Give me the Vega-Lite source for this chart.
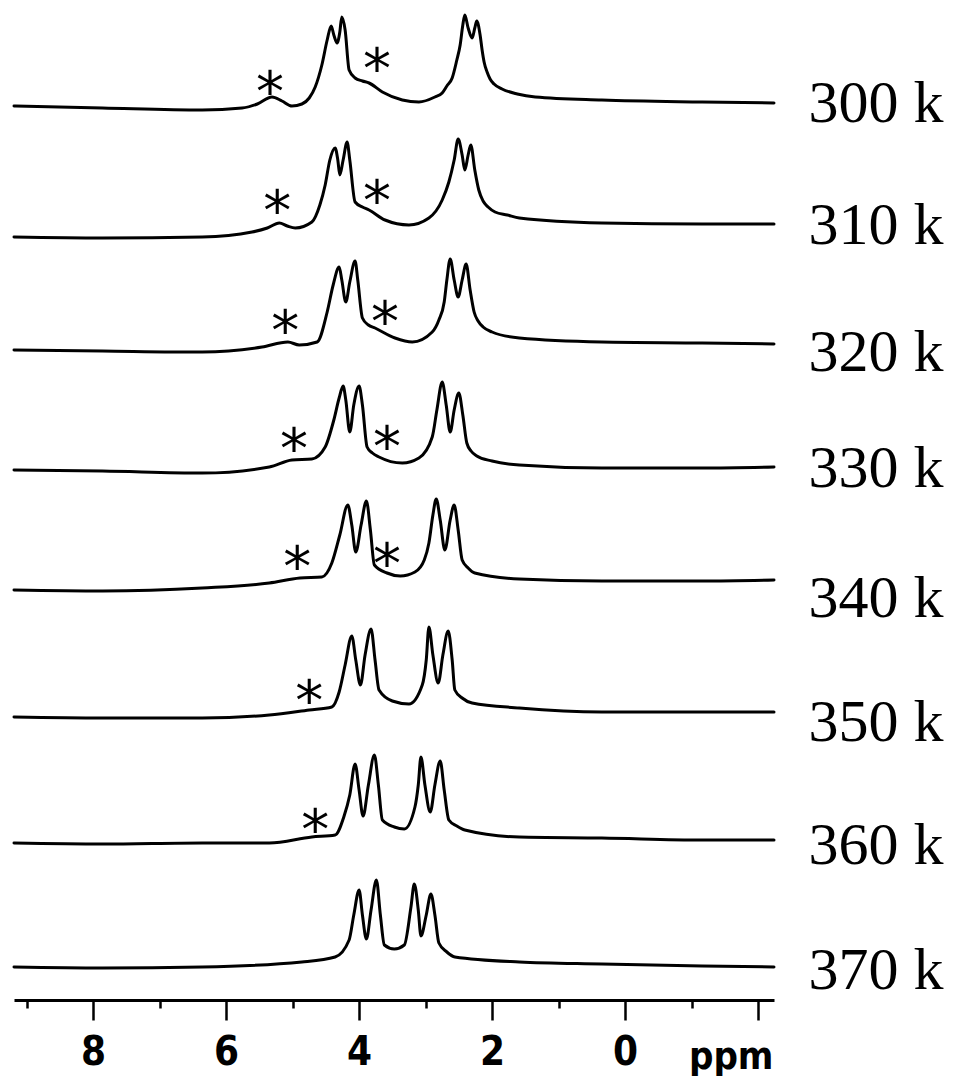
{
"$schema": "https://vega.github.io/schema/vega-lite/v6.json",
"width": 760, "height": 1000,
"padding": {"left": 12, "top": 0, "right": 0, "bottom": 0},
"background": "white",
"config": {"view": {"stroke": null}},
"datasets": {
"spectra": [
{"T":"300 k","ppm":9.19,"I":894},{"T":"300 k","ppm":7.86,"I":892},{"T":"300 k","ppm":6.36,"I":890},{"T":"300 k","ppm":5.76,"I":892},{"T":"300 k","ppm":5.53,"I":896},{"T":"300 k","ppm":5.31,"I":903},{"T":"300 k","ppm":5.16,"I":899},{"T":"300 k","ppm":5.01,"I":894},{"T":"300 k","ppm":4.86,"I":896},{"T":"300 k","ppm":4.75,"I":902},{"T":"300 k","ppm":4.66,"I":913},{"T":"300 k","ppm":4.56,"I":935},{"T":"300 k","ppm":4.48,"I":960},{"T":"300 k","ppm":4.42,"I":974},{"T":"300 k","ppm":4.38,"I":965},{"T":"300 k","ppm":4.33,"I":957},{"T":"300 k","ppm":4.29,"I":968},{"T":"300 k","ppm":4.26,"I":983},{"T":"300 k","ppm":4.21,"I":970},{"T":"300 k","ppm":4.15,"I":930},{"T":"300 k","ppm":4.06,"I":922},{"T":"300 k","ppm":3.95,"I":919},{"T":"300 k","ppm":3.85,"I":917},{"T":"300 k","ppm":3.65,"I":908},{"T":"300 k","ppm":3.35,"I":900},{"T":"300 k","ppm":3.10,"I":898},{"T":"300 k","ppm":2.86,"I":903},{"T":"300 k","ppm":2.75,"I":907},{"T":"300 k","ppm":2.68,"I":914},{"T":"300 k","ppm":2.60,"I":922},{"T":"300 k","ppm":2.53,"I":940},{"T":"300 k","ppm":2.48,"I":955},{"T":"300 k","ppm":2.44,"I":975},{"T":"300 k","ppm":2.41,"I":985},{"T":"300 k","ppm":2.36,"I":972},{"T":"300 k","ppm":2.30,"I":962},{"T":"300 k","ppm":2.26,"I":972},{"T":"300 k","ppm":2.23,"I":979},{"T":"300 k","ppm":2.18,"I":965},{"T":"300 k","ppm":2.15,"I":950},{"T":"300 k","ppm":2.12,"I":938},{"T":"300 k","ppm":2.075,"I":928},{"T":"300 k","ppm":2.03,"I":921},{"T":"300 k","ppm":1.97,"I":916},{"T":"300 k","ppm":1.85,"I":911},{"T":"300 k","ppm":1.62,"I":906},{"T":"300 k","ppm":1.35,"I":903},{"T":"300 k","ppm":0.35,"I":900},{"T":"300 k","ppm":-1.16,"I":898},{"T":"300 k","ppm":-2.24,"I":897},
{"T":"310 k","ppm":9.19,"I":763},{"T":"310 k","ppm":7.86,"I":762},{"T":"310 k","ppm":6.36,"I":763},{"T":"310 k","ppm":5.61,"I":768},{"T":"310 k","ppm":5.38,"I":772},{"T":"310 k","ppm":5.20,"I":777},{"T":"310 k","ppm":5.08,"I":774},{"T":"310 k","ppm":4.96,"I":772},{"T":"310 k","ppm":4.71,"I":778},{"T":"310 k","ppm":4.59,"I":795},{"T":"310 k","ppm":4.51,"I":815},{"T":"310 k","ppm":4.44,"I":840},{"T":"310 k","ppm":4.36,"I":852},{"T":"310 k","ppm":4.32,"I":840},{"T":"310 k","ppm":4.29,"I":825},{"T":"310 k","ppm":4.24,"I":840},{"T":"310 k","ppm":4.18,"I":858},{"T":"310 k","ppm":4.14,"I":840},{"T":"310 k","ppm":4.06,"I":798},{"T":"310 k","ppm":3.95,"I":793},{"T":"310 k","ppm":3.85,"I":790},{"T":"310 k","ppm":3.61,"I":780},{"T":"310 k","ppm":3.25,"I":775},{"T":"310 k","ppm":2.95,"I":782},{"T":"310 k","ppm":2.75,"I":800},{"T":"310 k","ppm":2.65,"I":818},{"T":"310 k","ppm":2.57,"I":840},{"T":"310 k","ppm":2.51,"I":861},{"T":"310 k","ppm":2.45,"I":845},{"T":"310 k","ppm":2.41,"I":830},{"T":"310 k","ppm":2.36,"I":845},{"T":"310 k","ppm":2.32,"I":855},{"T":"310 k","ppm":2.26,"I":830},{"T":"310 k","ppm":2.20,"I":810},{"T":"310 k","ppm":2.135,"I":799},{"T":"310 k","ppm":2.06,"I":793},{"T":"310 k","ppm":1.955,"I":788},{"T":"310 k","ppm":1.77,"I":785},{"T":"310 k","ppm":1.59,"I":782},{"T":"310 k","ppm":0.35,"I":777},{"T":"310 k","ppm":-1.16,"I":776},{"T":"310 k","ppm":-2.24,"I":776},
{"T":"320 k","ppm":9.19,"I":650},{"T":"320 k","ppm":7.86,"I":649},{"T":"320 k","ppm":6.36,"I":648},{"T":"320 k","ppm":5.46,"I":653},{"T":"320 k","ppm":5.07,"I":658},{"T":"320 k","ppm":4.90,"I":655},{"T":"320 k","ppm":4.63,"I":658},{"T":"320 k","ppm":4.48,"I":688},{"T":"320 k","ppm":4.39,"I":715},{"T":"320 k","ppm":4.30,"I":733},{"T":"320 k","ppm":4.26,"I":720},{"T":"320 k","ppm":4.20,"I":698},{"T":"320 k","ppm":4.14,"I":718},{"T":"320 k","ppm":4.06,"I":739},{"T":"320 k","ppm":4.02,"I":720},{"T":"320 k","ppm":3.95,"I":682},{"T":"320 k","ppm":3.86,"I":675},{"T":"320 k","ppm":3.76,"I":672},{"T":"320 k","ppm":3.46,"I":662},{"T":"320 k","ppm":3.20,"I":658},{"T":"320 k","ppm":2.90,"I":668},{"T":"320 k","ppm":2.80,"I":680},{"T":"320 k","ppm":2.72,"I":698},{"T":"320 k","ppm":2.68,"I":720},{"T":"320 k","ppm":2.63,"I":741},{"T":"320 k","ppm":2.57,"I":720},{"T":"320 k","ppm":2.51,"I":703},{"T":"320 k","ppm":2.45,"I":720},{"T":"320 k","ppm":2.39,"I":736},{"T":"320 k","ppm":2.33,"I":710},{"T":"320 k","ppm":2.27,"I":688},{"T":"320 k","ppm":2.21,"I":679},{"T":"320 k","ppm":2.135,"I":673},{"T":"320 k","ppm":2.00,"I":668},{"T":"320 k","ppm":1.59,"I":662},{"T":"320 k","ppm":0.35,"I":658},{"T":"320 k","ppm":-1.16,"I":657},{"T":"320 k","ppm":-2.24,"I":656},
{"T":"330 k","ppm":9.19,"I":530},{"T":"330 k","ppm":7.86,"I":529},{"T":"330 k","ppm":6.36,"I":527},{"T":"330 k","ppm":5.35,"I":533},{"T":"330 k","ppm":5.01,"I":540},{"T":"330 k","ppm":4.71,"I":541},{"T":"330 k","ppm":4.51,"I":553},{"T":"330 k","ppm":4.38,"I":580},{"T":"330 k","ppm":4.30,"I":602},{"T":"330 k","ppm":4.24,"I":614},{"T":"330 k","ppm":4.20,"I":600},{"T":"330 k","ppm":4.14,"I":568},{"T":"330 k","ppm":4.08,"I":595},{"T":"330 k","ppm":4.00,"I":614},{"T":"330 k","ppm":3.95,"I":595},{"T":"330 k","ppm":3.88,"I":553},{"T":"330 k","ppm":3.80,"I":547},{"T":"330 k","ppm":3.70,"I":543},{"T":"330 k","ppm":3.35,"I":537},{"T":"330 k","ppm":3.10,"I":542},{"T":"330 k","ppm":2.90,"I":563},{"T":"330 k","ppm":2.83,"I":590},{"T":"330 k","ppm":2.75,"I":618},{"T":"330 k","ppm":2.69,"I":595},{"T":"330 k","ppm":2.63,"I":568},{"T":"330 k","ppm":2.57,"I":590},{"T":"330 k","ppm":2.50,"I":607},{"T":"330 k","ppm":2.44,"I":585},{"T":"330 k","ppm":2.38,"I":557},{"T":"330 k","ppm":2.316,"I":549},{"T":"330 k","ppm":2.23,"I":544},{"T":"330 k","ppm":2.00,"I":539},{"T":"330 k","ppm":1.59,"I":535},{"T":"330 k","ppm":0.35,"I":532},{"T":"330 k","ppm":-1.16,"I":532},{"T":"330 k","ppm":-2.24,"I":533},
{"T":"340 k","ppm":9.19,"I":410},{"T":"340 k","ppm":7.86,"I":409},{"T":"340 k","ppm":6.36,"I":412},{"T":"340 k","ppm":5.35,"I":417},{"T":"340 k","ppm":4.89,"I":422},{"T":"340 k","ppm":4.56,"I":423},{"T":"340 k","ppm":4.41,"I":437},{"T":"340 k","ppm":4.29,"I":465},{"T":"340 k","ppm":4.17,"I":495},{"T":"340 k","ppm":4.11,"I":475},{"T":"340 k","ppm":4.05,"I":448},{"T":"340 k","ppm":3.97,"I":475},{"T":"340 k","ppm":3.89,"I":499},{"T":"340 k","ppm":3.83,"I":470},{"T":"340 k","ppm":3.77,"I":435},{"T":"340 k","ppm":3.58,"I":427},{"T":"340 k","ppm":3.38,"I":424},{"T":"340 k","ppm":3.16,"I":428},{"T":"340 k","ppm":3.02,"I":440},{"T":"340 k","ppm":2.95,"I":457},{"T":"340 k","ppm":2.89,"I":485},{"T":"340 k","ppm":2.84,"I":501},{"T":"340 k","ppm":2.78,"I":480},{"T":"340 k","ppm":2.71,"I":450},{"T":"340 k","ppm":2.63,"I":480},{"T":"340 k","ppm":2.57,"I":495},{"T":"340 k","ppm":2.51,"I":470},{"T":"340 k","ppm":2.45,"I":440},{"T":"340 k","ppm":2.36,"I":432},{"T":"340 k","ppm":2.26,"I":427},{"T":"340 k","ppm":1.59,"I":421},{"T":"340 k","ppm":0.35,"I":419},{"T":"340 k","ppm":-1.16,"I":419},{"T":"340 k","ppm":-2.24,"I":420},
{"T":"350 k","ppm":9.19,"I":283},{"T":"350 k","ppm":7.86,"I":282},{"T":"350 k","ppm":6.36,"I":282},{"T":"350 k","ppm":5.35,"I":285},{"T":"350 k","ppm":4.75,"I":290},{"T":"350 k","ppm":4.41,"I":293},{"T":"350 k","ppm":4.30,"I":308},{"T":"350 k","ppm":4.21,"I":335},{"T":"350 k","ppm":4.11,"I":364},{"T":"350 k","ppm":4.05,"I":340},{"T":"350 k","ppm":3.98,"I":315},{"T":"350 k","ppm":3.91,"I":345},{"T":"350 k","ppm":3.82,"I":371},{"T":"350 k","ppm":3.76,"I":340},{"T":"350 k","ppm":3.70,"I":310},{"T":"350 k","ppm":3.50,"I":299},{"T":"350 k","ppm":3.25,"I":296},{"T":"350 k","ppm":3.05,"I":315},{"T":"350 k","ppm":2.99,"I":340},{"T":"350 k","ppm":2.95,"I":373},{"T":"350 k","ppm":2.89,"I":345},{"T":"350 k","ppm":2.81,"I":317},{"T":"350 k","ppm":2.74,"I":345},{"T":"350 k","ppm":2.66,"I":369},{"T":"350 k","ppm":2.60,"I":340},{"T":"350 k","ppm":2.56,"I":310},{"T":"350 k","ppm":2.45,"I":302},{"T":"350 k","ppm":2.30,"I":297},{"T":"350 k","ppm":1.59,"I":292},{"T":"350 k","ppm":0.35,"I":288},{"T":"350 k","ppm":-1.16,"I":288},{"T":"350 k","ppm":-2.24,"I":288},
{"T":"360 k","ppm":9.19,"I":157},{"T":"360 k","ppm":7.86,"I":156},{"T":"360 k","ppm":6.36,"I":157},{"T":"360 k","ppm":5.35,"I":157},{"T":"360 k","ppm":4.71,"I":163},{"T":"360 k","ppm":4.36,"I":165},{"T":"360 k","ppm":4.23,"I":183},{"T":"360 k","ppm":4.14,"I":205},{"T":"360 k","ppm":4.06,"I":236},{"T":"360 k","ppm":4.00,"I":210},{"T":"360 k","ppm":3.94,"I":184},{"T":"360 k","ppm":3.86,"I":215},{"T":"360 k","ppm":3.77,"I":245},{"T":"360 k","ppm":3.71,"I":215},{"T":"360 k","ppm":3.65,"I":180},{"T":"360 k","ppm":3.47,"I":173},{"T":"360 k","ppm":3.32,"I":171},{"T":"360 k","ppm":3.16,"I":193},{"T":"360 k","ppm":3.11,"I":215},{"T":"360 k","ppm":3.07,"I":243},{"T":"360 k","ppm":3.01,"I":215},{"T":"360 k","ppm":2.93,"I":188},{"T":"360 k","ppm":2.86,"I":215},{"T":"360 k","ppm":2.78,"I":239},{"T":"360 k","ppm":2.72,"I":210},{"T":"360 k","ppm":2.65,"I":180},{"T":"360 k","ppm":2.53,"I":174},{"T":"360 k","ppm":2.41,"I":170},{"T":"360 k","ppm":1.59,"I":163},{"T":"360 k","ppm":0.35,"I":162},{"T":"360 k","ppm":-1.16,"I":160},{"T":"360 k","ppm":-2.24,"I":160},
{"T":"370 k","ppm":9.19,"I":33},{"T":"370 k","ppm":7.86,"I":32},{"T":"370 k","ppm":6.36,"I":33},{"T":"370 k","ppm":4.86,"I":38},{"T":"370 k","ppm":4.36,"I":43},{"T":"370 k","ppm":4.15,"I":60},{"T":"370 k","ppm":4.08,"I":85},{"T":"370 k","ppm":4.00,"I":110},{"T":"370 k","ppm":3.95,"I":85},{"T":"370 k","ppm":3.89,"I":61},{"T":"370 k","ppm":3.82,"I":90},{"T":"370 k","ppm":3.74,"I":120},{"T":"370 k","ppm":3.68,"I":85},{"T":"370 k","ppm":3.62,"I":55},{"T":"370 k","ppm":3.47,"I":51},{"T":"370 k","ppm":3.32,"I":55},{"T":"370 k","ppm":3.22,"I":93},{"T":"370 k","ppm":3.17,"I":116},{"T":"370 k","ppm":3.11,"I":90},{"T":"370 k","ppm":3.07,"I":64},{"T":"370 k","ppm":2.99,"I":85},{"T":"370 k","ppm":2.92,"I":106},{"T":"370 k","ppm":2.86,"I":85},{"T":"370 k","ppm":2.80,"I":57},{"T":"370 k","ppm":2.68,"I":48},{"T":"370 k","ppm":2.56,"I":43},{"T":"370 k","ppm":1.59,"I":38},{"T":"370 k","ppm":0.35,"I":36},{"T":"370 k","ppm":-1.16,"I":34},{"T":"370 k","ppm":-2.24,"I":33}
],
"stars": [
{"ppm":5.34,"I":922},{"ppm":3.73,"I":945},
{"ppm":5.23,"I":803},{"ppm":3.73,"I":813},
{"ppm":5.11,"I":683},{"ppm":3.61,"I":692},
{"ppm":4.98,"I":565},{"ppm":3.58,"I":567},
{"ppm":4.93,"I":447},{"ppm":3.58,"I":450},
{"ppm":4.75,"I":313},
{"ppm":4.66,"I":184}
],
"labels": [
{"T":"300 k","ppm":-2.76,"I":878},{"T":"310 k","ppm":-2.76,"I":756},{"T":"320 k","ppm":-2.76,"I":629},{"T":"330 k","ppm":-2.76,"I":513},
{"T":"340 k","ppm":-2.76,"I":383},{"T":"350 k","ppm":-2.76,"I":259},{"T":"360 k","ppm":-2.76,"I":136},{"T":"370 k","ppm":-2.76,"I":11}
]
},
"layer": [
{"data": {"name": "spectra"},
 "mark": {"type": "line", "interpolate": "monotone", "strokeWidth": 3, "color": "black", "strokeJoin": "round", "strokeCap": "round"},
 "encoding": {
  "x": {"field": "ppm", "type": "quantitative",
   "scale": {"domain": [-2.24, 9.19], "reverse": true, "nice": false, "zero": false},
   "axis": {"values": [9,8,7,6,5,4,3,2,1,0,-1,-2], "grid": false, "format": "d",
    "domainColor": "black", "domainWidth": 3,
    "tickColor": "black", "tickWidth": 2.5,
    "tickSize": {"condition": {"test": "datum.value % 2 === 0", "value": 20}, "value": 8},
    "labelExpr": "datum.value >= 0 && datum.value <= 8 && datum.value % 2 === 0 ? datum.label : ''",
    "labelFont": "Liberation Sans Narrow, DejaVu Sans Condensed, Liberation Sans", "labelFontWeight": "bold", "labelFontSize": 40, "labelColor": "black",
    "labelPadding": 12, "labelFlush": false, "labelOverlap": false,
    "title": "ppm", "titleFont": "Liberation Sans Narrow, DejaVu Sans Condensed, Liberation Sans", "titleFontWeight": "bold", "titleFontSize": 38, "titleColor": "black",
    "titleX": 759, "titleY": 68, "titleAlign": "right", "titleBaseline": "alphabetic", "titleAnchor": null}},
  "y": {"field": "I", "type": "quantitative", "scale": {"domain": [0, 1000], "nice": false, "zero": false}, "axis": null},
  "detail": {"field": "T"}
 }},
{"data": {"name": "stars"},
 "mark": {"type": "text", "text": "*", "font": "DejaVu Sans", "fontSize": 56, "dy": 33, "baseline": "alphabetic", "align": "center", "color": "black"},
 "encoding": {
  "x": {"field": "ppm", "type": "quantitative"},
  "y": {"field": "I", "type": "quantitative"}
 }},
{"data": {"name": "labels"},
 "mark": {"type": "text", "font": "Liberation Serif", "fontSize": 60, "align": "left", "baseline": "alphabetic", "color": "black"},
 "encoding": {
  "x": {"field": "ppm", "type": "quantitative"},
  "y": {"field": "I", "type": "quantitative"},
  "text": {"field": "T"}
 }}
]
}
